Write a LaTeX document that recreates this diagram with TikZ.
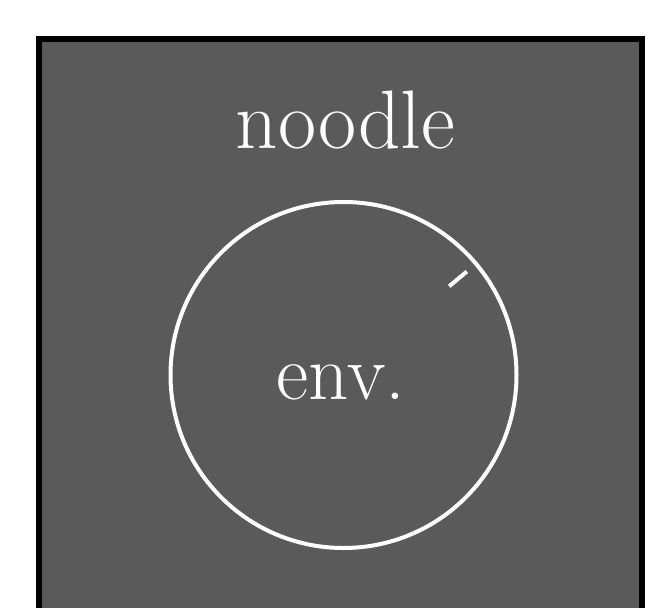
\documentclass[tikz,border=0pt]{standalone}
\usetikzlibrary{calc}
\definecolor{boardgray}{RGB}{90,90,90}
\tikzset{
  board/.style={draw=black, line width=6pt, fill=boardgray},
  ring/.style={circle, draw=white, line width=4pt, minimum size=346pt, inner sep=0pt},
  bigtext/.style={text=white, font=\fontsize{79}{79}\selectfont, inner sep=0pt},
  hand/.style={draw=white, line width=4pt}
}
\begin{document}
\begin{tikzpicture}[x=1pt,y=1pt]
\clip (0,0) rectangle (667,-608);
\path[board] (39,-39) rectangle (642,-640);
\node[bigtext, font=\fontsize{83}{83}\selectfont, anchor=base] (title) at (345.5,-148) {noodle};
\node[ring] (knob) at (343.5,-375) {};
\node[bigtext, anchor=base] (envlabel) at (341,-399) {env.};
\coordinate (handin) at ($(knob.center)+(40:138)$);
\coordinate (handout) at ($(knob.center)+(40:161)$);
\draw[hand] (handin) -- (handout);
\end{tikzpicture}
\end{document}
